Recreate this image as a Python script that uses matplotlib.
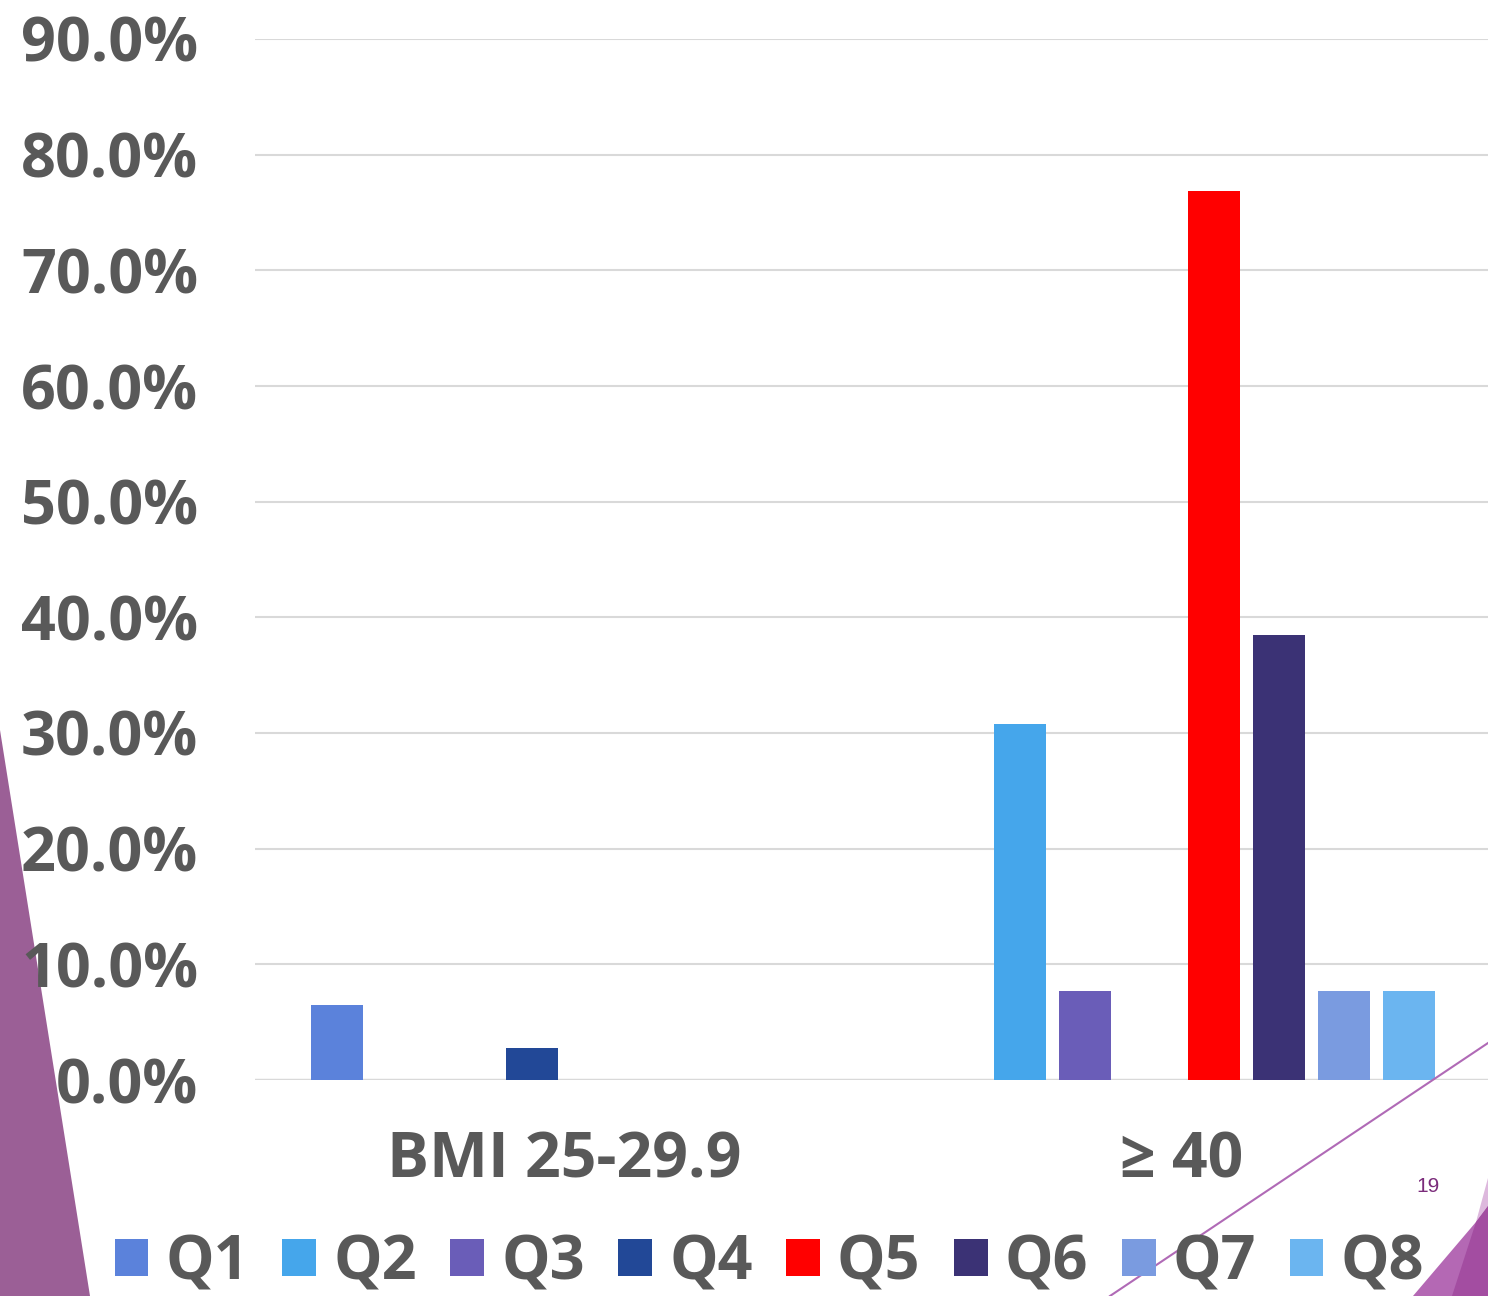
import matplotlib.pyplot as plt
from matplotlib.patches import Polygon, Patch
from matplotlib.ticker import PercentFormatter

categories = ["BMI 25-29.9", "\u2265 40"]
series = ["Q1", "Q2", "Q3", "Q4", "Q5", "Q6", "Q7", "Q8"]
values = [
    [6.5, 0.0],    # Q1
    [0.0, 30.8],   # Q2
    [0.0, 7.7],    # Q3
    [2.8, 0.0],    # Q4
    [0.0, 76.9],   # Q5
    [0.0, 38.5],   # Q6
    [0.0, 7.7],    # Q7
    [0.0, 7.7],    # Q8
]
colors = ["#5B82DB", "#45A6EB", "#6A5DB8", "#224897",
          "#FF0000", "#3B3275", "#7A9BE0", "#6BB5F0"]

TEXT = "#595959"
W, H = 1488, 1296

fig = plt.figure(figsize=(W / 100, H / 100), dpi=100)

# slide decoration in pixel coordinates, behind the chart
deco = fig.add_axes([0, 0, 1, 1], zorder=0)
deco.set_xlim(0, W)
deco.set_ylim(H, 0)
deco.axis("off")
deco.add_patch(Polygon([(0, 730), (90, H), (0, H)], closed=True,
                       facecolor="#9B5F96", edgecolor="none"))
deco.add_patch(Polygon([(1488, 1178), (1476, 1222), (1488, 1206)], closed=True,
                       facecolor="#DDB8DD", edgecolor="none"))
deco.add_patch(Polygon([(1413, H), (1476, 1222), (1488, 1206), (1488, H)], closed=True,
                       facecolor="#B468B4", edgecolor="none"))
deco.add_patch(Polygon([(1452, H), (1476, 1222), (1488, 1206), (1488, H)], closed=True,
                       facecolor="#A34DA1", edgecolor="none"))
deco.text(1428, 1186, "19", color="#7B2C7B", fontsize=15, ha="center", va="center",
          family="Liberation Sans")

ax = fig.add_axes([255 / W, 1 - 1080 / H, 1236 / W, 1041 / H], zorder=1)
ax.patch.set_alpha(0)

slot = 0.105
bar_w = 0.084
for i, (name, vals) in enumerate(zip(series, values)):
    xs = [c + (i - 3.5) * slot for c in range(len(categories))]
    ax.bar(xs, vals, width=bar_w, color=colors[i], zorder=3, label=name)

ax.set_xlim(-0.5, 1.5)
ax.set_ylim(0, 90)
ax.set_yticks(range(0, 91, 10))
ax.yaxis.set_major_formatter(PercentFormatter(decimals=1))
ax.set_xticks(range(len(categories)))
ax.set_xticklabels(categories)
ax.grid(axis="y", color="#D9D9D9", linewidth=1.5, zorder=0)
for s in ax.spines.values():
    s.set_visible(False)
ax.axhline(0, color="#D9D9D9", linewidth=2.4, zorder=2)
ax.tick_params(axis="both", length=0)
ax.tick_params(axis="y", pad=41, labelsize=44, labelcolor=TEXT)
ax.tick_params(axis="x", pad=36, labelsize=45, labelcolor=TEXT)
for lbl in ax.get_yticklabels() + ax.get_xticklabels():
    lbl.set_family("Open Sans")
    lbl.set_fontweight("bold")

handles = [Patch(facecolor=c, edgecolor="none") for c in colors]
leg = fig.legend(handles, series, loc="center", bbox_to_anchor=(0.517, 0.025),
                 ncol=8, frameon=False,
                 prop={"family": "Open Sans", "weight": "bold", "size": 44},
                 handlelength=0.55, handleheight=0.55, handletextpad=0.28,
                 columnspacing=0.55, borderpad=0)
for t in leg.get_texts():
    t.set_color(TEXT)

# thin diagonal accent line over everything
over = fig.add_axes([0, 0, 1, 1], zorder=5)
over.set_xlim(0, W)
over.set_ylim(H, 0)
over.axis("off")
over.plot([1110, 1488], [H, 1043], color="#B06AB6", linewidth=1.5)

fig.savefig("out.png", dpi=100)
